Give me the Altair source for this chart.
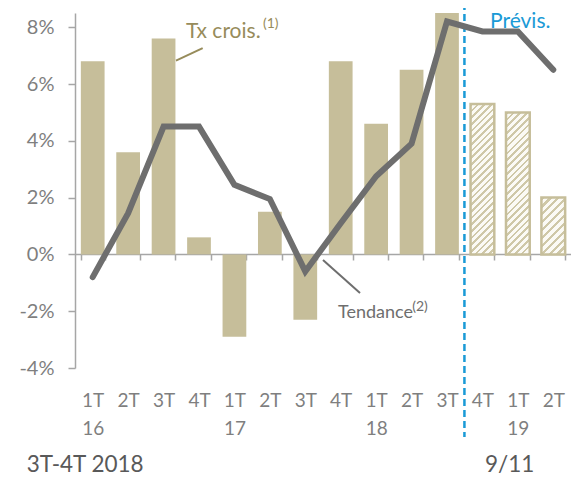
import altair as alt
import pandas as pd

quarters = ["1T", "2T", "3T", "4T", "1T", "2T", "3T", "4T", "1T", "2T", "3T", "4T", "1T", "2T"]
years = ["16", "16", "16", "16", "17", "17", "17", "17", "18", "18", "18", "18", "19", "19"]
growth = [6.8, 3.6, 7.6, 0.6, -2.9, 1.5, -2.3, 6.8, 4.6, 6.5, 8.5, 5.3, 5.0, 2.0]
trend = [-0.8, 1.45, 4.5, 4.5, 2.45, 1.95, -0.6, 1.1, 2.75, 3.9, 8.2, 7.85, 7.85, 6.5]
forecast = [False] * 11 + [True] * 3
y_ticks = [-4, -2, 0, 2, 4, 6, 8]

cats = [f"{q}|{y}" for q, y in zip(quarters, years)]
df = pd.DataFrame({"cat": cats, "growth": growth, "trend": trend, "forecast": forecast})

FONT = "Lato"
TAN = "#c6be9a"
GREY_LINE = "#6e6e6e"
BLUE = "#1a9ad6"
OLIVE = "#978c5b"

W, H = 496, 355
Y_DOMAIN = [-4, 8.5]

x_scale = alt.Scale(domain=cats, paddingInner=0.33, paddingOuter=0.165)
x_axis = alt.Axis(
    title=None,
    offset=-114,
    tickBand="extent",
    domainColor="#a6a6a6",
    domainWidth=1.5,
    tickColor="#a6a6a6",
    tickWidth=1.5,
    tickSize=6,
    labelPadding=131,
    labelLineHeight=28,
    labelAngle=0,
    labelColor="#7f7f7f",
    labelFont=FONT,
    labelFontSize=19,
    labelOverlap=False,
    labelExpr="isString(datum.value) ? (split(datum.value, '|')[0] == '1T' ? split(datum.value, '|') : split(datum.value, '|')[0]) : ''",
)


def X(field="cat"):
    return alt.X(f"{field}:N", sort=cats, scale=x_scale, axis=x_axis)


y_scale = alt.Scale(domain=Y_DOMAIN, nice=False, zero=False)
y_axis = alt.Axis(
    title=None,
    values=y_ticks,
    labelExpr="datum.value + '%'",
    domainColor="#a6a6a6",
    domainWidth=1.5,
    tickColor="#a6a6a6",
    tickWidth=1.5,
    tickSize=7,
    labelPadding=14,
    labelColor="#7f7f7f",
    labelFont=FONT,
    labelFontSize=20,
    grid=False,
)


def Y(field):
    return alt.Y(f"{field}:Q", scale=y_scale, axis=y_axis)


base = alt.Chart(df)

bars = base.transform_filter("!datum.forecast").mark_bar(color=TAN).encode(
    x=X(), y=Y("growth")
)

# hatched (forecast) bars: diagonal stripe texture via a linear gradient per bar
px_per_unit = H / (Y_DOMAIN[1] - Y_DOMAIN[0])
band_w = W / len(cats) * (1 - 0.33)


def hatch_fill(value):
    h = abs(value) * px_per_unit
    k = 1.3
    n = max(4, int(round(h * k / 6.5)))
    stops = []
    for i in range(n):
        a = i / n
        b = (i + 0.4) / n
        c = (i + 1) / n
        stops += [
            alt.GradientStop(offset=a, color="#cfc8a8"),
            alt.GradientStop(offset=b, color="#cfc8a8"),
            alt.GradientStop(offset=b, color="#fbfaf5"),
            alt.GradientStop(offset=c, color="#fbfaf5"),
        ]
    return alt.LinearGradient(
        gradient="linear", stops=stops, x1=0, y1=0, x2=k * band_w / h, y2=k
    )


fbars = []
for c, v, f in zip(cats, growth, forecast):
    if f:
        fbars.append(
            base.transform_filter(alt.datum.cat == c).mark_bar(
                fill=hatch_fill(v), stroke=TAN, strokeWidth=2.5
            ).encode(x=X(), y=Y("growth"))
        )

line = base.mark_line(
    color=GREY_LINE, strokeWidth=6, strokeCap="round", strokeJoin="miter"
).encode(x=X(), y=Y("trend"))

rule_df = pd.DataFrame({"cat": ["4T|18"], "y1": [8.85], "y2": [-6.43]})
vrule = alt.Chart(rule_df).mark_rule(
    color=BLUE, strokeWidth=2.5, strokeDash=[7, 4], xOffset=-18, clip=False
).encode(x=X(), y=Y("y1"), y2="y2:Q")

lead_df = pd.DataFrame({"cat": ["3T|16"], "cat2": ["4T|16"], "y1": [6.82], "y2": [7.26]})
lead1 = alt.Chart(lead_df).mark_rule(
    color=OLIVE, strokeWidth=2, xOffset=12.4, x2Offset=3.7
).encode(x=X(), x2="cat2:N", y=Y("y1"), y2="y2:Q")

lead2_df = pd.DataFrame({"cat": ["3T|17"], "cat2": ["4T|17"], "y1": [-0.2], "y2": [-1.36]})
lead2 = alt.Chart(lead2_df).mark_rule(
    color=GREY_LINE, strokeWidth=2, xOffset=17.7, x2Offset=19.3
).encode(x=X(), x2="cat2:N", y=Y("y1"), y2="y2:Q")


def label(text, cat, yv, dx, size, color, baseline="alphabetic"):
    d = pd.DataFrame({"cat": [cat], "v": [yv], "t": [text]})
    return alt.Chart(d).mark_text(
        align="left", baseline=baseline, dx=dx, font=FONT, fontSize=size,
        color=color, clip=False
    ).encode(x=X(), y=Y("v"), text="t:N")


texts = [
    label("Tx crois.", "4T|16", 7.62, -13, 21, OLIVE),
    label("(1)", "4T|16", 7.98, 64, 14, OLIVE),
    label("Tendance", "4T|17", -2.24, -2.7, 18, GREY_LINE),
    label("(2)", "4T|17", -1.98, 71.5, 14, GREY_LINE),
    label("Prévis.", "4T|18", 7.97, 7.6, 21, BLUE),
    label("3T-4T 2018", "1T|16", -7.65, -66, 22.5, "#595959"),
    label("9/11", "2T|19", -7.65, -68.3, 22.5, "#595959"),
]

chart = alt.layer(bars, *fbars, vrule, line, lead1, lead2, *texts).properties(
    width=W,
    height=H,
    padding={"left": 67, "top": 5, "right": 0, "bottom": 108},
    autosize=alt.AutoSizeParams(type="none"),
    background="white",
).configure_view(stroke=None)

chart.save("out.html", embed_options={"renderer": "svg", "actions": False})
